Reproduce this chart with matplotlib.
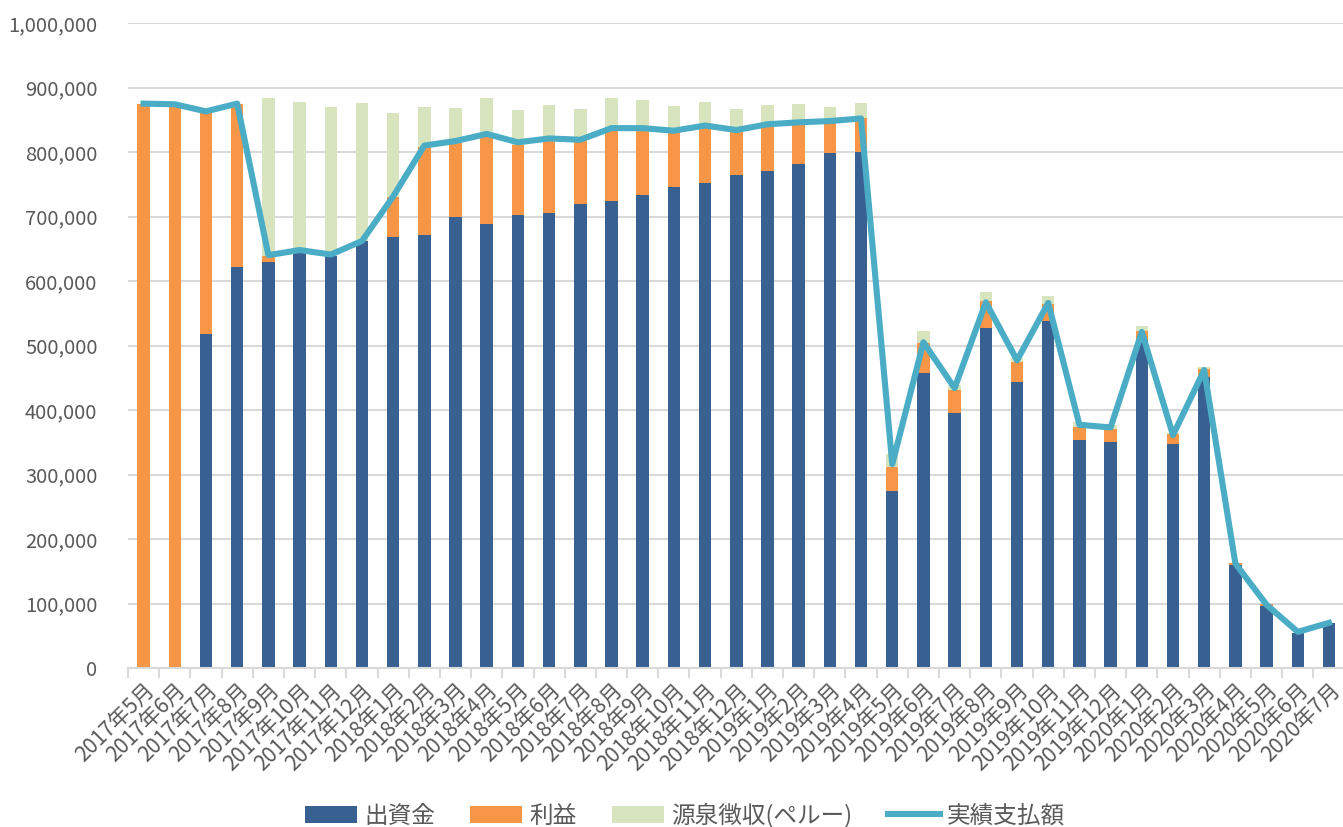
import matplotlib
matplotlib.use("Agg")
import matplotlib.pyplot as plt
import numpy as np
from matplotlib.ticker import FuncFormatter, FixedLocator

plt.rcParams['font.family'] = ['Noto Sans CJK JP', 'DejaVu Sans']

months = []
for y in range(2017, 2021):
    for m in range(1, 13):
        if (y == 2017 and m < 5) or (y == 2020 and m > 7):
            continue
        months.append("{}年{}月".format(y, m))

# values (yen)
capital = [0, 0, 518000, 622000, 629000, 645000, 639000, 662000, 668000, 671000,
           699000, 688000, 702000, 705000, 719000, 724000, 733000, 746000, 752000, 764000,
           771000, 781000, 798000, 800000, 274000, 457000, 395000, 527000, 443000, 538000,
           353000, 350000, 508000, 347000, 451000, 160000, 96000, 54000, 70000]
profit = [875000, 873000, 344000, 253000, 10000, 0, 0, 0, 62000, 137000,
          115000, 135000, 109000, 113000, 98000, 110000, 101000, 84000, 85000, 67000,
          68000, 62000, 47000, 53000, 38000, 47000, 36000, 42000, 31000, 26000,
          21000, 20000, 15000, 16000, 12000, 3000, 3000, 0, 0]
tax = [0, 0, 0, 0, 245000, 233000, 231000, 214000, 130000, 62000,
       54000, 61000, 54000, 55000, 50000, 50000, 47000, 41000, 40000, 36000,
       34000, 31000, 25000, 23000, 20000, 19000, 7000, 14000, 6000, 13000,
       7000, 6000, 7000, 2000, 4000, 0, 0, 0, 0]
paid = [875000, 874000, 863000, 875000, 640000, 648000, 641000, 662000, 731000, 810000,
        817000, 828000, 815000, 821000, 819000, 837000, 837000, 833000, 841000, 834000,
        843000, 846000, 848000, 852000, 316000, 505000, 434000, 567000, 477000, 566000,
        377000, 373000, 521000, 361000, 462000, 162000, 98000, 56000, 70000]

c_blue = "#386192"
c_orange = "#F79646"
c_green = "#D7E4BD"
c_line = "#4BACC6"
c_text = "#595959"

fig = plt.figure(figsize=(13.43, 8.27), dpi=100)
ax = fig.add_axes([128 / 1343, 1 - 668 / 827, 1 - 128 / 1343, (668 - 23) / 827])

x = np.arange(len(months))
w = 0.4
cap = np.array(capital)
pro = np.array(profit)
tx = np.array(tax)
ax.bar(x, cap, w, color=c_blue, label="出資金", zorder=2)
ax.bar(x, pro, w, bottom=cap, color=c_orange, label="利益", zorder=2)
ax.bar(x, tx, w, bottom=cap + pro, color=c_green, label="源泉徴収(ペルー)", zorder=2)
ax.plot(x, paid, color=c_line, lw=4.4, label="実績支払額", zorder=3)

ax.set_ylim(0, 1000000)
ax.set_xlim(-0.5, 38.45)
ax.set_yticks(np.arange(0, 1000001, 100000))
ax.yaxis.set_major_formatter(FuncFormatter(lambda v, p: "{:,}".format(int(v))))
ax.grid(axis="y", color="#d9d9d9", lw=1.5, zorder=0)
ax.set_axisbelow(True)

ax.set_xticks(x)
ax.set_xticklabels(months, rotation=45, ha="right", va="top", rotation_mode="anchor",
                   fontsize=15.3, color=c_text)
ax.tick_params(axis="x", length=0, pad=8)
ax.xaxis.set_minor_locator(FixedLocator(np.arange(-0.5, 39, 1)))
ax.tick_params(axis="x", which="minor", length=7, color="#d9d9d9", width=1.5)
ax.tick_params(axis="y", length=0, pad=22, labelsize=14.5, labelcolor=c_text)

for s in ["top", "right", "left"]:
    ax.spines[s].set_visible(False)
ax.spines["bottom"].set_color("#d9d9d9")
ax.spines["bottom"].set_linewidth(1.5)

h, l = ax.get_legend_handles_labels()
order = [1, 2, 3, 0]
leg = fig.legend([h[i] for i in order], [l[i] for i in order], loc="center",
                 bbox_to_anchor=(0.51, 0.014), ncol=4, frameon=False, fontsize=17,
                 handlelength=2.2, handleheight=0.75, columnspacing=1.5, handletextpad=0.3)
for t in leg.get_texts():
    t.set_color(c_text)

fig.savefig("out.png", dpi=100)
